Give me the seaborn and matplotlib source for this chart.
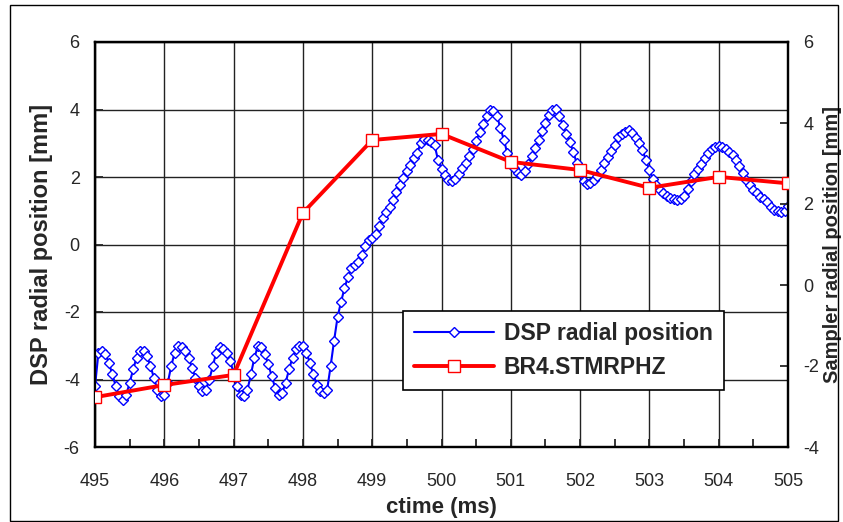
import numpy as np
import matplotlib
matplotlib.use("Agg")
import matplotlib.pyplot as plt
import seaborn as sns
from matplotlib.lines import Line2D
from matplotlib.patches import Rectangle

# --- DATA ---
# DSP radial position, sampled every 0.05 ms from 495 to 505 ms
dsp_t0 = 495.0
dsp_step = 0.05
dsp_mm = [
    -4.2, -3.2, -3.15, -3.25, -3.5, -3.85, -4.2, -4.5, -4.62, -4.45,
    -4.1, -3.7, -3.35, -3.15, -3.15, -3.3, -3.6, -3.95, -4.3, -4.5,
    -4.45, -4.1, -3.6, -3.2, -3.02, -3.05, -3.15, -3.35, -3.65, -3.95,
    -4.2, -4.35, -4.3, -4.0, -3.6, -3.2, -3.05, -3.1, -3.2, -3.45,
    -3.8, -4.2, -4.45, -4.5, -4.3, -3.85, -3.35, -3.02, -3.05, -3.25,
    -3.55, -3.9, -4.25, -4.45, -4.4, -4.1, -3.7, -3.35, -3.1, -3.0,
    -3.02, -3.2, -3.5, -3.85, -4.15, -4.35, -4.4, -4.3, -3.6, -2.85,
    -2.15, -1.7, -1.3, -0.95, -0.7, -0.6, -0.52, -0.3, -0.05, 0.13,
    0.18, 0.3, 0.55, 0.78, 0.95, 1.1, 1.32, 1.55, 1.76, 1.97,
    2.18, 2.35, 2.55, 2.72, 3.0, 3.12, 3.1, 3.05, 2.95, 2.5,
    2.25, 2.05, 1.9, 1.87, 1.95, 2.1, 2.28, 2.42, 2.62, 2.82,
    3.08, 3.32, 3.58, 3.8, 3.98, 3.95, 3.82, 3.45, 3.1, 2.7,
    2.45, 2.28, 2.12, 2.05, 2.18, 2.38, 2.62, 2.87, 3.1, 3.35,
    3.6, 3.83, 3.98, 4.02, 3.82, 3.55, 3.28, 3.05, 2.75, 2.42,
    2.15, 1.88, 1.8, 1.82, 1.9, 2.03, 2.22, 2.42, 2.6, 2.78,
    2.95, 3.18, 3.28, 3.33, 3.38, 3.3, 3.15, 3.02, 2.8, 2.5,
    2.2, 1.95, 1.75, 1.62, 1.52, 1.45, 1.38, 1.35, 1.33, 1.36,
    1.45, 1.65, 1.88, 2.1, 2.25, 2.38, 2.55, 2.72, 2.83, 2.9,
    2.92, 2.9, 2.82, 2.75, 2.65, 2.5, 2.32, 2.12, 1.92, 1.75,
    1.62, 1.52, 1.42, 1.35, 1.25, 1.12, 1.03, 0.98, 0.96, 1.0,
    1.15,
]
dsp_time = dsp_t0 + dsp_step * np.arange(len(dsp_mm))

# Sampler (BR4.STMRPHZ), one point per ms, right axis
br4_time = [495, 496, 497, 498, 499, 500, 501, 502, 503, 504, 505]
br4_mm = [-2.77, -2.47, -2.22, 1.78, 3.58, 3.73, 3.04, 2.84, 2.4, 2.67, 2.51]

x_ticks = list(range(495, 506))
left_ticks = [-6, -4, -2, 0, 2, 4, 6]
right_ticks = [-4, -2, 0, 2, 4, 6]

# --- STYLE ---
sns.set_style("white")
plt.rcParams['font.family'] = ['Liberation Sans', 'DejaVu Sans']
plt.rcParams['axes.unicode_minus'] = False

fig = plt.figure(figsize=(8.43, 5.22), dpi=100)
ax = fig.add_axes([95 / 843, 1 - 447 / 522, 693 / 843, 405 / 522])
ax2 = ax.twinx()

sns.lineplot(x=dsp_time, y=dsp_mm, ax=ax, color='#0000FF', lw=1.5,
             marker='D', markersize=5, markerfacecolor='white',
             markeredgecolor='#0000FF', markeredgewidth=1.0, zorder=3)
sns.lineplot(x=br4_time, y=br4_mm, ax=ax2, color='#FF0000', lw=2.8,
             marker='s', markersize=8.5, markerfacecolor='white',
             markeredgecolor='#FF0000', markeredgewidth=1.0, zorder=3)

ax.set_xlim(495, 505)
ax.set_ylim(-6, 6)
ax2.set_ylim(-4, 6)
ax.set_xticks(x_ticks)
ax.set_xticks(np.array(x_ticks[:-1]) + 0.5, minor=True)
ax.set_yticks(left_ticks)
ax2.set_yticks(right_ticks)

ax.grid(True, which='major', color='#222222', lw=1.0)
ax.set_axisbelow(True)

for a in (ax, ax2):
    for s in a.spines.values():
        s.set_color('black')
        s.set_linewidth(1.6)
ax.tick_params(axis='both', which='both', direction='in', length=6, width=1.3,
               labelsize=13, bottom=True, left=True)
ax.tick_params(axis='x', which='minor', length=6)
ax.tick_params(axis='x', pad=19)
ax.tick_params(axis='y', pad=11)
ax2.tick_params(axis='y', direction='in', length=6, width=1.3, labelsize=13,
                pad=11, right=True)

ax.set_xlabel('ctime (ms)', fontsize=16, fontweight='bold', labelpad=5)
ax.set_ylabel('DSP radial position [mm]', fontsize=17, fontweight='bold', labelpad=8)
ax2.set_ylabel('Sampler radial position [mm]', fontsize=14.5, fontweight='bold')
# right label sits close to the outer frame, as in the reference
ax2.yaxis.set_label_coords((823 - 95) / 693, 0.5)

handles = [
    Line2D([], [], color='#0000FF', lw=1.5, marker='D', markersize=5,
           markerfacecolor='white', markeredgecolor='#0000FF'),
    Line2D([], [], color='#FF0000', lw=2.8, marker='s', markersize=8.5,
           markerfacecolor='white', markeredgecolor='#FF0000'),
]
leg = ax2.legend(handles, ['DSP radial position', 'BR4.STMRPHZ'],
                 loc='upper left', bbox_to_anchor=(0.444, 0.336),
                 frameon=True, fancybox=False, framealpha=1, edgecolor='black',
                 prop={'size': 16.5, 'weight': 'bold'}, handlelength=3.5,
                 borderpad=0.5, labelspacing=0.45, handletextpad=0.4,
                 borderaxespad=0)
leg.get_frame().set_linewidth(1.2)
leg.set_zorder(10)

fig.patches.append(Rectangle((10 / 843, 1 / 522), 828 / 843, 516 / 522,
                             transform=fig.transFigure, fill=False,
                             edgecolor='black', lw=1.0))

fig.savefig('out.png', dpi=100)
